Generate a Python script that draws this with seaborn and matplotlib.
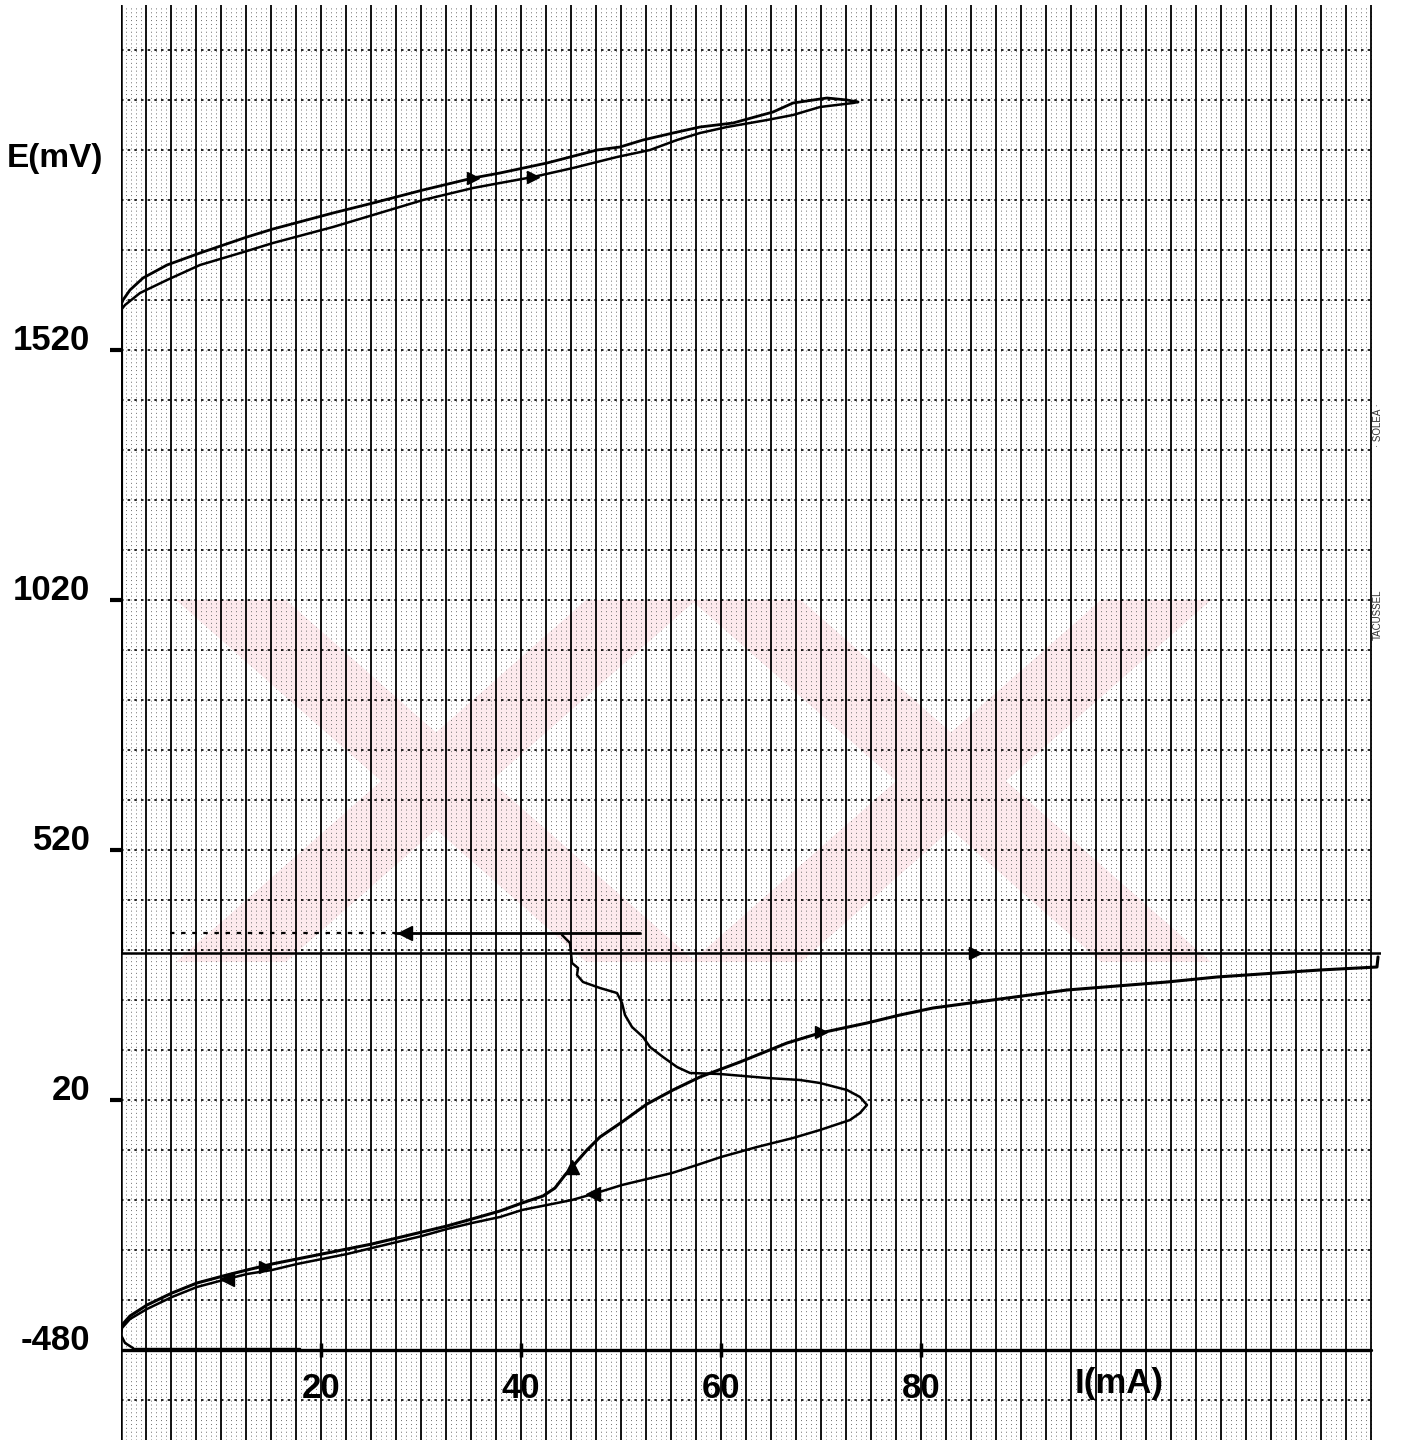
import matplotlib
matplotlib.use("Agg")
import matplotlib.pyplot as plt
import seaborn as sns
from matplotlib.patches import Polygon

# ---------------- data (I in mA, E in mV) ----------------
# anodic branch: outer trace and return trace
i_anod_out = [0.0, 0.2, 0.9, 2.2, 4.6, 7.9, 12.6, 15.2, 21.2, 25.2, 30.2, 35.2, 37.9,
              42.6, 47.6, 49.9, 52.2, 55.2, 57.9, 61.2, 65.2, 67.2, 70.6, 72.6, 73.7]
e_anod_out = [1610, 1620, 1640, 1664, 1690, 1714, 1746, 1762, 1794, 1814, 1840, 1864, 1874,
              1894, 1920, 1926, 1940, 1954, 1966, 1974, 1996, 2014, 2024, 2020, 2016]
i_anod_back = [73.7, 73.2, 69.9, 67.2, 64.6, 60.6, 57.9, 55.6, 52.9, 49.6, 45.2, 41.2, 37.9,
               35.2, 30.2, 25.2, 21.2, 15.2, 12.6, 7.9, 4.6, 1.9, 0.4, 0.0]
e_anod_back = [2016, 2014, 2006, 1990, 1980, 1966, 1954, 1940, 1920, 1906, 1884, 1866, 1854,
               1844, 1820, 1790, 1766, 1734, 1718, 1690, 1660, 1634, 1610, 1600]

# zero-current descent
i_zero = [0.0, 0.0]
e_zero = [1610, 314]

# short plateau near 354 mV
i_plateau = [27.4, 51.9]
e_plateau = [354, 354]
i_plateau_faint = [4.9, 27.4]
e_plateau_faint = [354, 354]

# break line at 314 mV
i_break = [0.0, 126.0]
e_break = [314, 314]

# forward sweep starting from the -480 mV origin
i_fwd = [0.1, 0.9, 2.6, 5.1, 7.6, 10.6, 12.6, 15.1, 17.6, 20.1, 22.6, 25.1, 27.6, 30.1,
         32.6, 35.1, 37.9, 40.1, 42.2, 43.4, 44.4, 45.1, 46.6, 47.9, 50.1, 52.6, 55.2,
         57.9, 61.9, 66.6, 69.9, 74.6, 77.9, 81.2, 87.9, 94.6, 104.6, 109.6, 119.9,
         125.6, 125.7]
e_fwd = [-430, -412, -390, -366, -346, -330, -320, -308, -298, -288, -278, -268, -256, -244,
         -232, -218, -202, -186, -172, -156, -130, -114, -80, -54, -24, 12, 40,
         66, 96, 134, 154, 174, 190, 204, 222, 240, 256, 266, 280,
         286, 306]

# descending branch from the plateau, loop and return to the origin
i_loop = [44.1, 44.9, 45.1, 45.7, 45.6, 46.2, 47.9, 49.6, 50.1, 50.4, 51.1, 52.2, 52.9,
          54.2, 55.6, 56.9, 59.9, 64.6, 67.9, 69.9, 72.6, 73.9, 74.6, 73.9, 72.9, 69.9,
          67.2, 63.6, 60.0, 57.6, 55.1, 50.1, 47.2, 45.1, 40.1, 37.9, 35.1, 32.6, 30.1,
          27.6, 25.1, 22.6, 20.1, 17.6, 15.1, 12.6, 10.6, 7.6, 5.1, 2.6, 0.9, 0.1, 0.0,
          0.4, 1.2]
e_loop = [350, 334, 294, 284, 270, 256, 244, 234, 214, 190, 166, 146, 126,
          106, 86, 74, 72, 64, 60, 54, 40, 26, 10, -6, -20, -40,
          -56, -74, -94, -110, -126, -150, -168, -180, -200, -214, -226, -238, -252,
          -264, -276, -288, -298, -308, -320, -328, -338, -354, -374, -398, -418, -436, -450,
          -466, -476]
# pen resting on the -480 mV line
i_rest = [1.2, 17.9]
e_rest = [-476, -476]

# direction arrows on the traces
arrow_left_i = [28.4, 47.2, 10.6]
arrow_left_e = [354, -168, -338]
arrow_right_i = [85.4, 35.2, 41.2, 14.4, 70.0]
arrow_right_e = [314, 1864, 1866, -314, 156]
arrow_up_i = [45.1]
arrow_up_e = [-114]

# axis labelling
y_ticks = [1520, 1020, 520, 20, -480]
y_tick_labels = ["1520", "1020", "520", "20", "-480"]
x_ticks = [20, 40, 60, 80]
x_tick_labels = ["20", "40", "60", "80"]
e_axis = -480

# ---------------- figure ----------------
sns.set_theme(style="white")
plt.rcParams["font.family"] = ["Liberation Sans", "DejaVu Sans"]

W, H = 1402, 1444
fig = plt.figure(figsize=(W / 100, H / 100), dpi=100)
ax = fig.add_axes([121 / W, 4 / H, (1381 - 121) / W, (1440 - 5) / H])
ax.set_xlim(0, 126.0)
ax.set_ylim(-660, 2210)
ax.set_facecolor("white")

# faint pink watermark
pink = "#fdeaed"
def band(x0, x1, x2, x3, y0, y1):
    return Polygon([(x0, y1), (x1, y1), (x3, y0), (x2, y0)], closed=True,
                   transform=ax.transData, facecolor=pink, edgecolor="none", zorder=0)
for cx in (5.5, 57.0):
    ax.add_patch(band(cx, cx + 11, cx + 41, cx + 52, 296, 1020))
    ax.add_patch(band(cx + 41, cx + 52, cx, cx + 11, 296, 1020))

# graph-paper grid
minor_x = [k * 0.5 for k in range(1, 251)]
ax.vlines(minor_x, -660, 2210, colors="#6e6e6e", linewidth=0.7,
          linestyles=(0, (1, 3)), zorder=1)
major_x = [k * 2.5 for k in range(1, 51)]
ax.vlines(major_x, -660, 2210, colors="black", linewidth=1.3, zorder=2)
major_y = [20 + 100 * k for k in range(-6, 22)]
ax.hlines(major_y, 0, 125, colors="black", linewidth=1.2,
          linestyles=(0, (1.5, 2.5)), zorder=2)

# axes lines
ax.axvline(0, color="black", linewidth=1.8, zorder=3)
ax.plot([0, 125.0], [e_axis, e_axis], color="black", linewidth=2.4, zorder=3)
for s in ax.spines.values():
    s.set_visible(False)

kw = dict(color="black", sort=False, estimator=None, legend=False, zorder=5)
sns.lineplot(x=i_anod_out, y=e_anod_out, ax=ax, linewidth=2.0, **kw)
sns.lineplot(x=i_anod_back, y=e_anod_back, ax=ax, linewidth=1.8, **kw)
sns.lineplot(x=i_zero, y=e_zero, ax=ax, linewidth=3.0, **kw)
sns.lineplot(x=i_break, y=e_break, ax=ax, linewidth=1.8, **kw)
sns.lineplot(x=i_plateau, y=e_plateau, ax=ax, linewidth=2.0, **kw)
ax.plot(i_plateau_faint, e_plateau_faint, color="black", linewidth=1.6,
        linestyle=(0, (2, 3)), zorder=5)
sns.lineplot(x=i_fwd, y=e_fwd, ax=ax, linewidth=2.2, **kw)
sns.lineplot(x=i_loop, y=e_loop, ax=ax, linewidth=1.8, **kw)
sns.lineplot(x=i_rest, y=e_rest, ax=ax, linewidth=1.0, **kw)

ax.plot(arrow_left_i, arrow_left_e, linestyle="none", marker="<", markersize=10,
        color="black", zorder=6)
ax.plot(arrow_right_i, arrow_right_e, linestyle="none", marker=">", markersize=9,
        color="black", zorder=6)
ax.plot(arrow_up_i, arrow_up_e, linestyle="none", marker="^", markersize=10,
        color="black", zorder=6)

# y ticks: short dashes with the value sitting on the dash level
ax.set_yticks(y_ticks)
ax.set_yticklabels(y_tick_labels, fontsize=25, fontweight="bold")
ax.tick_params(axis="y", direction="out", length=8, width=3, pad=14, colors="black",
               left=True)
for lab in ax.get_yticklabels():
    lab.set_verticalalignment("baseline")
ax.yaxis.get_major_ticks()[-1].tick1line.set_visible(False)
ax.set_xticks([])

# x labels below the -480 mV line
for v, t in zip(x_ticks, x_tick_labels):
    ax.text(v, -556, t, ha="center", va="center", fontsize=25, fontweight="bold",
            color="black")
ax.plot(x_ticks, [e_axis] * len(x_ticks), linestyle="none", marker="|",
        markersize=10, markeredgewidth=2.5, color="black", zorder=4)
ax.text(99.8, -548, "I(mA)", ha="center", va="center", fontsize=25, fontweight="bold",
        color="black")

fig.text(55 / W, 1 - 158 / H, "E(mV)", ha="center", va="center", fontsize=24,
         fontweight="bold", color="black")

# recorder paper imprint
fig.text(1378 / W, 1 - 615 / H, "TACUSSEL", rotation=90, ha="center", va="center",
         fontsize=7, color="#333333")
fig.text(1378 / W, 1 - 425 / H, "· SOLEA ·", rotation=90, ha="center", va="center",
         fontsize=7, color="#333333")

fig.savefig("out.png", dpi=100, facecolor="white")
